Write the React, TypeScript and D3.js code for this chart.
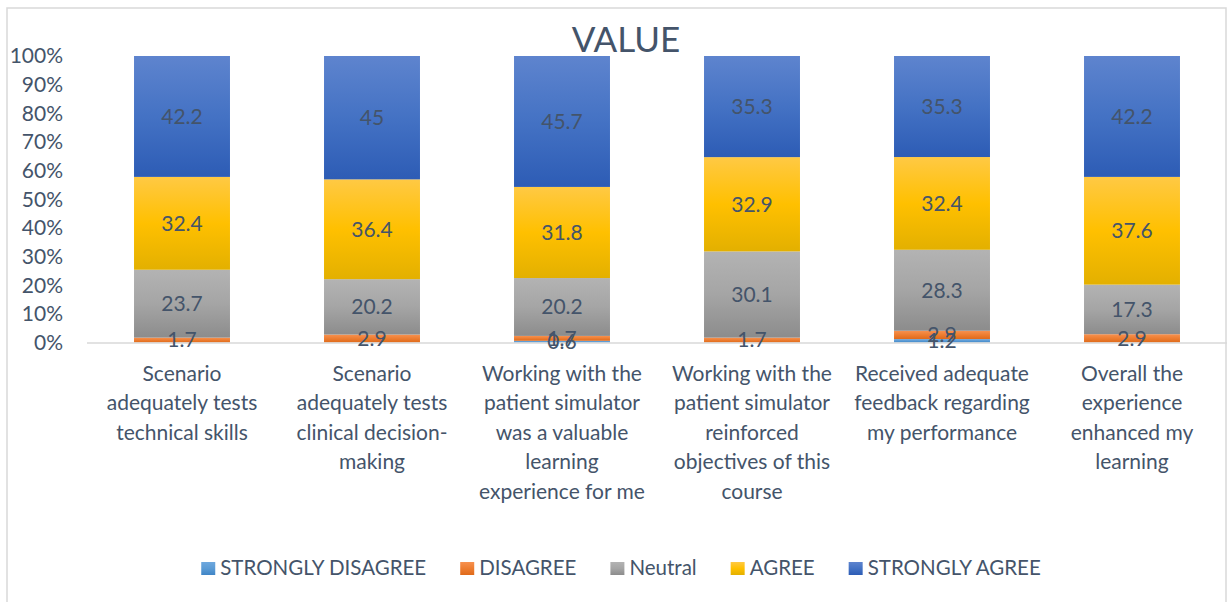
import React, { useEffect, useRef } from 'react';
import * as d3 from 'd3';

const categories = [
  ['Scenario', 'adequately tests', 'technical skills'],
  ['Scenario', 'adequately tests', 'clinical decision-', 'making'],
  ['Working with the', 'patient simulator', 'was a valuable', 'learning', 'experience for me'],
  ['Working with the', 'patient simulator', 'reinforced', 'objectives of this', 'course'],
  ['Received adequate', 'feedback regarding', 'my performance'],
  ['Overall the', 'experience', 'enhanced my', 'learning'],
];

const seriesNames = ['STRONGLY DISAGREE', 'DISAGREE', 'Neutral', 'AGREE', 'STRONGLY AGREE'];
const strongDisagree = [null, null, 0.6, null, 1.2, null];
const disagree = [1.7, 2.9, 1.7, 1.7, 2.9, 2.9];
const neutral = [23.7, 20.2, 20.2, 30.1, 28.3, 17.3];
const agree = [32.4, 36.4, 31.8, 32.9, 32.4, 37.6];
const strongAgree = [42.2, 45, 45.7, 35.3, 35.3, 42.2];

// gradient stops per series: top, middle, bottom
const seriesColors = [
  ['#6EA8DE', '#5B9BD5', '#3F85C6'],
  ['#F7914F', '#ED7D31', '#DF6A1A'],
  ['#B3B3B3', '#A5A5A5', '#8C8C8C'],
  ['#FFC944', '#FFC000', '#E3B000'],
  ['#5E84CE', '#4472C4', '#2D5CB5'],
];

const TEXT = '#44546A';
const FONT = 'Lato, "Liberation Sans", sans-serif';

const App: React.FC = () => {
  const ref = useRef<SVGSVGElement | null>(null);

  useEffect(() => {
    if (!ref.current) return;
    const width = 1231;
    const height = 602;
    const svg = d3.select(ref.current);
    svg.selectAll('*').remove();
    svg.attr('width', width).attr('height', height);

    const raw = [strongDisagree, disagree, neutral, agree, strongAgree];
    const rows = categories.map((_, i) => {
      const r: any = { idx: i };
      seriesNames.forEach((k, s) => { r[k] = raw[s][i] ?? 0; });
      return r;
    });

    const stacked = d3.stack<any>()
      .keys(seriesNames)
      .offset(d3.stackOffsetExpand)(rows);

    const x = d3.scaleBand<number>()
      .domain(categories.map((_, i) => i))
      .range([87, 1227])
      .paddingInner(0.495)
      .paddingOuter(0.2475);

    const y = d3.scaleLinear().domain([0, 1]).range([342.5, 56]);

    // gradients
    const defs = svg.append('defs');
    seriesColors.forEach((c, s) => {
      const g = defs.append('linearGradient')
        .attr('id', `grad${s}`)
        .attr('x1', 0).attr('y1', 0).attr('x2', 0).attr('y2', 1);
      g.append('stop').attr('offset', '0%').attr('stop-color', c[0]);
      g.append('stop').attr('offset', '50%').attr('stop-color', c[1]);
      g.append('stop').attr('offset', '100%').attr('stop-color', c[2]);
    });

    // chart frame
    svg.append('rect')
      .attr('x', 7).attr('y', 8)
      .attr('width', 1219).attr('height', 640)
      .attr('fill', '#fff')
      .attr('stroke', '#D9D9D9')
      .attr('stroke-width', 1.5);

    // title
    svg.append('text')
      .attr('x', 626).attr('y', 52)
      .attr('text-anchor', 'middle')
      .attr('font-family', FONT)
      .attr('font-size', 35)
      .attr('fill', TEXT)
      .text('VALUE');

    // y axis labels
    svg.append('g')
      .selectAll('text')
      .data(y.ticks(10))
      .enter()
      .append('text')
      .attr('x', 63)
      .attr('y', d => y(d))
      .attr('dy', '0.35em')
      .attr('text-anchor', 'end')
      .attr('font-family', FONT)
      .attr('font-size', 21)
      .attr('fill', TEXT)
      .text(d => d3.format('.0%')(d));

    // bars
    const layers = svg.append('g')
      .selectAll('g')
      .data(stacked)
      .enter()
      .append('g')
      .attr('fill', (_, s) => `url(#grad${s})`);

    layers.selectAll('rect')
      .data(d => d.filter(p => p[1] - p[0] > 0))
      .enter()
      .append('rect')
      .attr('x', d => x(d.data.idx) as number)
      .attr('width', x.bandwidth())
      .attr('y', d => y(d[1]))
      .attr('height', d => y(d[0]) - y(d[1]));

    // baseline
    svg.append('line')
      .attr('x1', 87).attr('x2', 1227)
      .attr('y1', y(0) + 0.5).attr('y2', y(0) + 0.5)
      .attr('stroke', '#D9D9D9')
      .attr('stroke-width', 1.5);

    // data labels (small segments overlap at the baseline, as in the original)
    stacked.forEach((layer, s) => {
      svg.append('g')
        .selectAll('text')
        .data(layer.filter(p => raw[s][p.data.idx] != null))
        .enter()
        .append('text')
        .attr('x', d => (x(d.data.idx) as number) + x.bandwidth() / 2)
        .attr('y', d => y((d[0] + d[1]) / 2))
        .attr('dy', '0.35em')
        .attr('text-anchor', 'middle')
        .attr('font-family', FONT)
        .attr('font-size', 21)
        .attr('fill', TEXT)
        .text(d => String(raw[s][d.data.idx]));
    });

    // category labels
    const catG = svg.append('g');
    categories.forEach((lines, i) => {
      const t = catG.append('text')
        .attr('text-anchor', 'middle')
        .attr('font-family', FONT)
        .attr('font-size', 21)
        .attr('fill', TEXT);
      lines.forEach((ln, j) => {
        t.append('tspan')
          .attr('x', (x(i) as number) + x.bandwidth() / 2)
          .attr('y', 381 + j * 29.4)
          .text(ln);
      });
    });

    // legend, centred like the original
    const legend = svg.append('g');
    const items = seriesNames.map((name, s) => {
      const g = legend.append('g');
      g.append('rect')
        .attr('x', 0).attr('y', 562)
        .attr('width', 14).attr('height', 13)
        .attr('fill', `url(#grad${s})`);
      const t = g.append('text')
        .attr('x', 19).attr('y', 574.5)
        .attr('font-family', FONT)
        .attr('font-size', 20.5)
        .attr('fill', TEXT)
        .text(name);
      const w = 19 + (t.node() as SVGTextElement).getComputedTextLength();
      return { g, w };
    });
    const gap = 34;
    const total = d3.sum(items, d => d.w) + gap * (items.length - 1);
    let cx = 621 - total / 2;
    items.forEach(it => {
      it.g.attr('transform', `translate(${cx},0)`);
      cx += it.w + gap;
    });
  }, []);

  return (
    <svg
      ref={ref}
      style={{ position: 'absolute', left: 0, top: 0, display: 'block' }}
    />
  );
};

export default App;
